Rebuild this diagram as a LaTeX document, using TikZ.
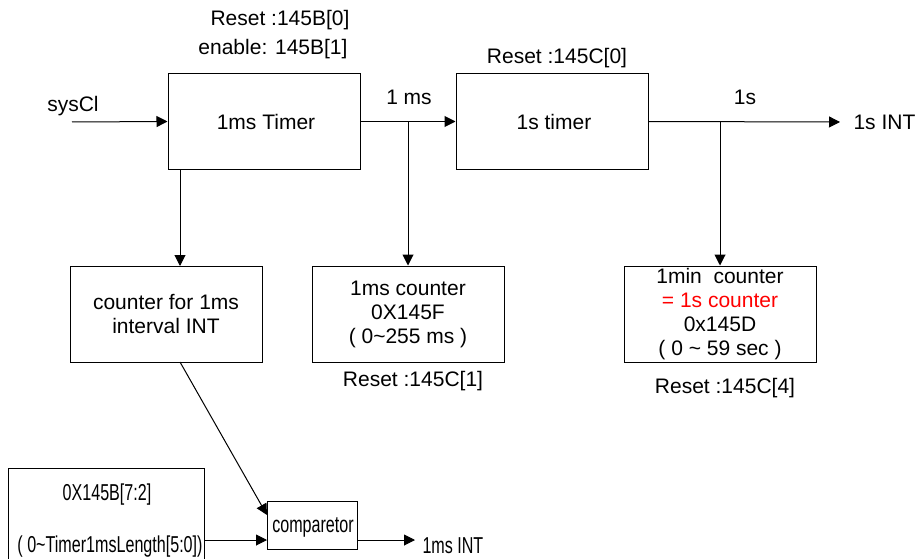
\documentclass[tikz,border=0pt]{standalone}
\usepackage{fontspec}
\setmainfont{Liberation Sans}
\usetikzlibrary{arrows.meta}
\newcommand{\sq}[1]{\scalebox{0.7}[1]{\fontsize{23}{26}\selectfont #1}}
\begin{document}
\begin{tikzpicture}[x=1pt,y=-1pt,
  line width=1pt,
  arr/.style={-{Triangle[length=11pt,width=11pt]}},
  txt/.style={font=\fontsize{21}{24}\selectfont, inner sep=0pt},
  box/.style={draw, minimum width=192pt, minimum height=96pt, inner sep=0pt, align=center, font=\fontsize{21}{24}\selectfont}]
\clip (0,0) rectangle (915,559);
% boxes
\node[box, minimum height=95pt] (t1) at (264,121.5) {};
\node[box, minimum height=95pt] (t2) at (552,121.5) {};
\node[box] (c1) at (166,314) {counter for 1ms\\interval INT};
\node[box] (c2) at (408,314) {1ms counter\\0X145F\\( 0\textasciitilde255 ms )};
\node[box] (c3) at (720,314) {1min\ \ counter\\\textcolor{red}{= 1s counter}\\0x145D\\( 0 \textasciitilde\ 59 sec )};
\node[box, minimum width=196pt, minimum height=120pt] (reg) at (106,528) {};
\node[draw, minimum width=90pt, minimum height=48pt, inner sep=0pt] (cmp) at (312,525) {};
% texts
\node[txt, anchor=base] (r0) at (280,26) {Reset :145B[0]};
\node[txt, anchor=base] (en) at (273,55) {enable: 145B[1]};
\node[txt, anchor=base] (sys) at (73,112) {sysCl};
\node[txt, anchor=base] (t1t) at (266,129) {1ms Timer};
\node[txt, anchor=base] (ms) at (409,105) {1 ms};
\node[txt, anchor=base] (t2t) at (554,129) {1s timer};
\node[txt, anchor=base] (rc0) at (557,64) {Reset :145C[0]};
\node[txt, anchor=base] (s1) at (745,105) {1s};
\node[txt, anchor=base west] (sint) at (853,129) {1s INT};
\node[txt, anchor=base] (rc1) at (413,386) {Reset :145C[1]};
\node[txt, anchor=base] (rc4) at (725,393) {Reset :145C[4]};
\node[txt, anchor=base] (regt1) at (107,500) {\sq{0X145B[7:2]}};
\node[txt, anchor=base] (regt2) at (110,552) {\sq{( 0\textasciitilde Timer1msLength[5:0])}};
\node[txt, anchor=base] (cmpt) at (313,532) {\sq{comparetor}};
\node[txt, anchor=base west] (msint) at (422,553) {\sq{1ms INT}};
% coordinates
\coordinate (clk) at (72,122);
\coordinate (j1) at (408,122);
\coordinate (j2) at (720,122);
\coordinate (sout) at (840,122);
\coordinate (t1b) at (180,169);
\coordinate (c1t) at (180,266);
\coordinate (c1b) at (180,362);
\coordinate (cmpa) at (267,515);
\coordinate (cmpb) at (267,540);
\coordinate (rege) at (204,540);
\coordinate (cmpo) at (357,540);
\coordinate (mout) at (415,540);
% connectors
\draw[arr] (clk) -- (t1.west);
\draw[arr] (t1.east) -- (t2.west);
\draw[arr] (t2.east) -- (sout);
\draw[arr] (j1) -- (c2.north);
\draw[arr] (j2) -- (c3.north);
\draw[arr] (t1b) -- (c1t);
\draw[arr] (c1b) -- (cmpa);
\draw[arr] (rege) -- (cmpb);
\draw[arr] (cmpo) -- (mout);
\end{tikzpicture}
\end{document}
